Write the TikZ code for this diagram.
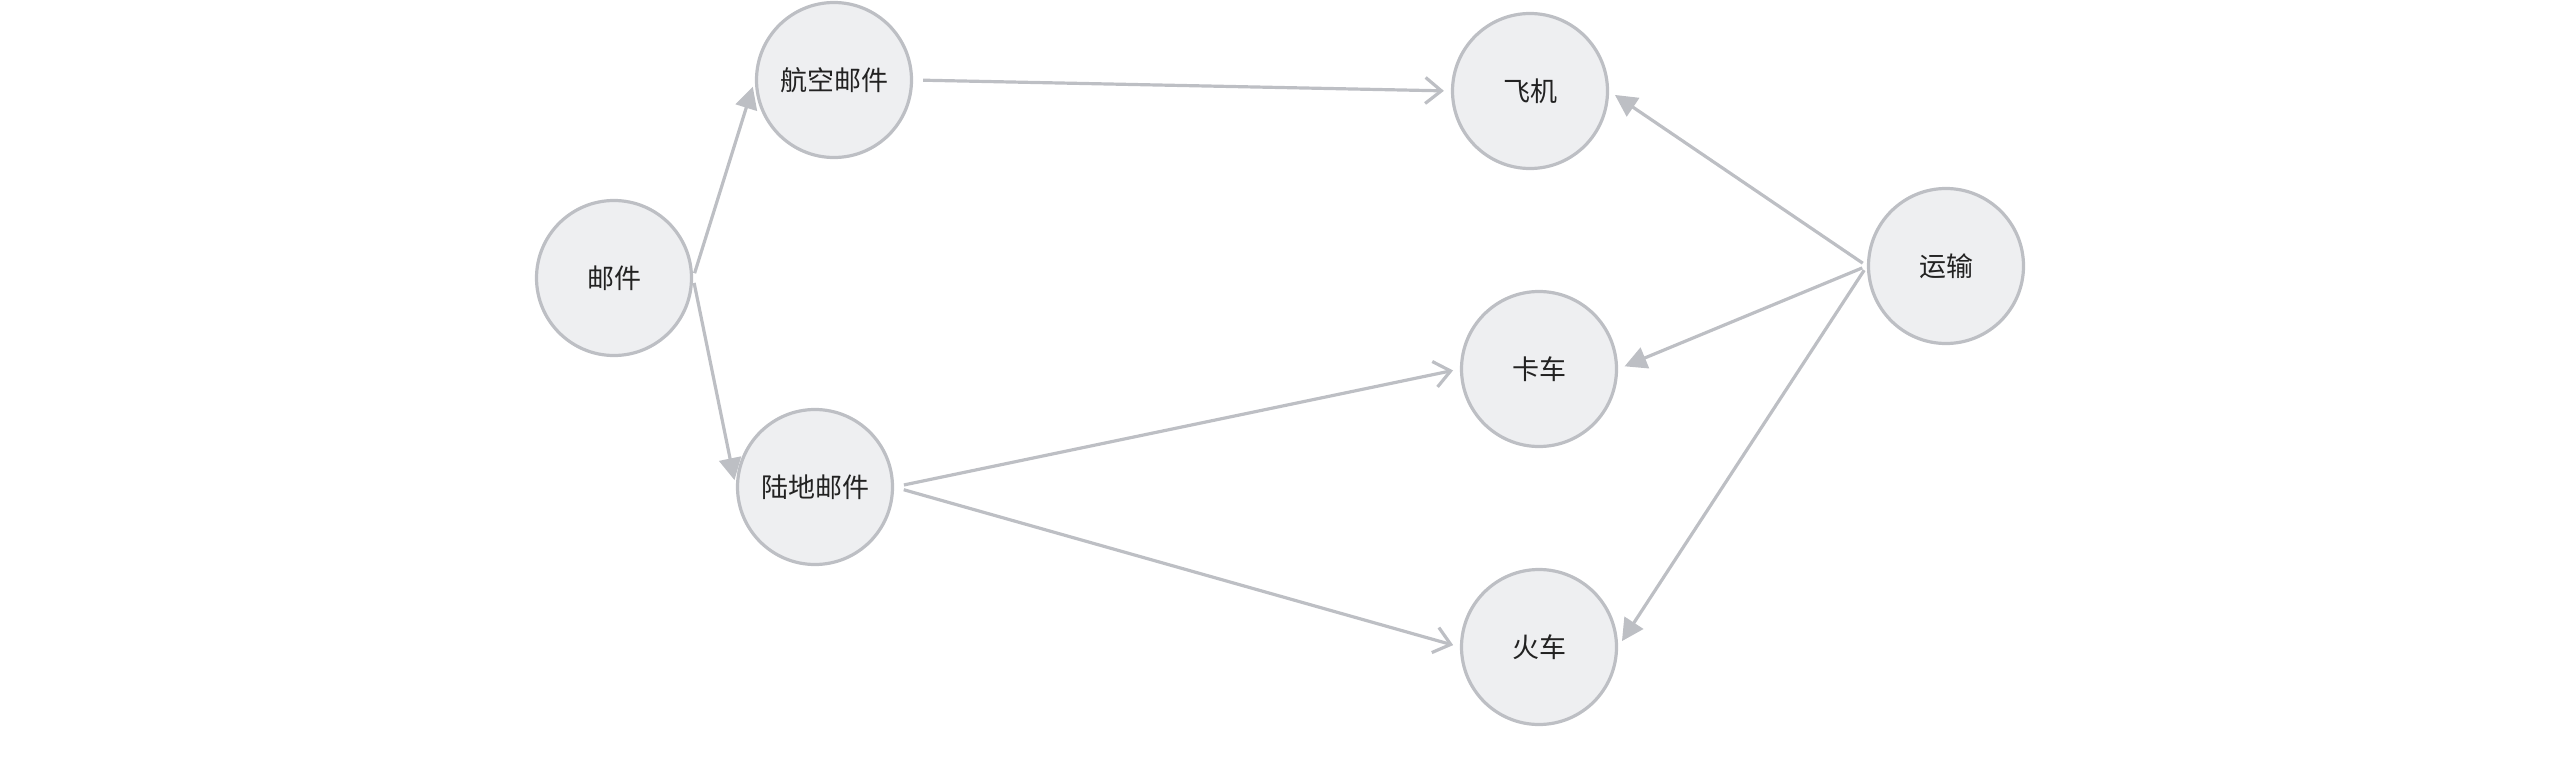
\documentclass[tikz,border=0pt]{standalone}
\usepackage{fontspec}
\setmainfont{Noto Sans CJK SC}
\usetikzlibrary{arrows.meta}
\definecolor{edgegray}{HTML}{BDBFC4}
\definecolor{nodefill}{HTML}{EEEFF1}
\definecolor{txt}{HTML}{222222}
\tikzset{
  vert/.style={circle, draw=edgegray, fill=nodefill, line width=1.6pt, minimum size=77.5pt, inner sep=0pt, text=txt, font=\fontsize{13.5pt}{16pt}\selectfont},
  solidedge/.style={draw=edgegray, line width=1.6pt, -{Triangle[length=11pt,width=11pt]}, shorten <=2.5pt, shorten >=3.5pt},
  openedge/.style={draw=edgegray, line width=1.6pt, -{Straight Barb[length=8pt,width=13pt]}, shorten <=5pt, shorten >=3.5pt}
}
\begin{document}
\begin{tikzpicture}[x=0.5pt, y=-0.5pt]
\useasboundingbox (0,0) rectangle (2560,760);
\node[vert] (mail)  at (614,278) {邮件};
\node[vert] (air)   at (834,80)  {航空邮件};
\node[vert] (land)  at (815,487) {陆地邮件};
\node[vert] (plane) at (1530,91) {飞机};
\node[vert] (truck) at (1539,369) {卡车};
\node[vert] (train) at (1539,647) {火车};
\node[vert] (trans) at (1946,266) {运输};
\draw[solidedge] (mail.east) -- (air.west);
\draw[solidedge] (mail.east) -- (land.west);
\draw[openedge] (air.east) -- (plane.west);
\draw[openedge] (land.east) -- (truck.west);
\draw[openedge] (land.east) -- (train.west);
\draw[solidedge] (trans.west) -- (plane.east);
\draw[solidedge] (trans.west) -- (truck.east);
\draw[solidedge] (trans.west) -- (train.east);
\end{tikzpicture}
\end{document}
